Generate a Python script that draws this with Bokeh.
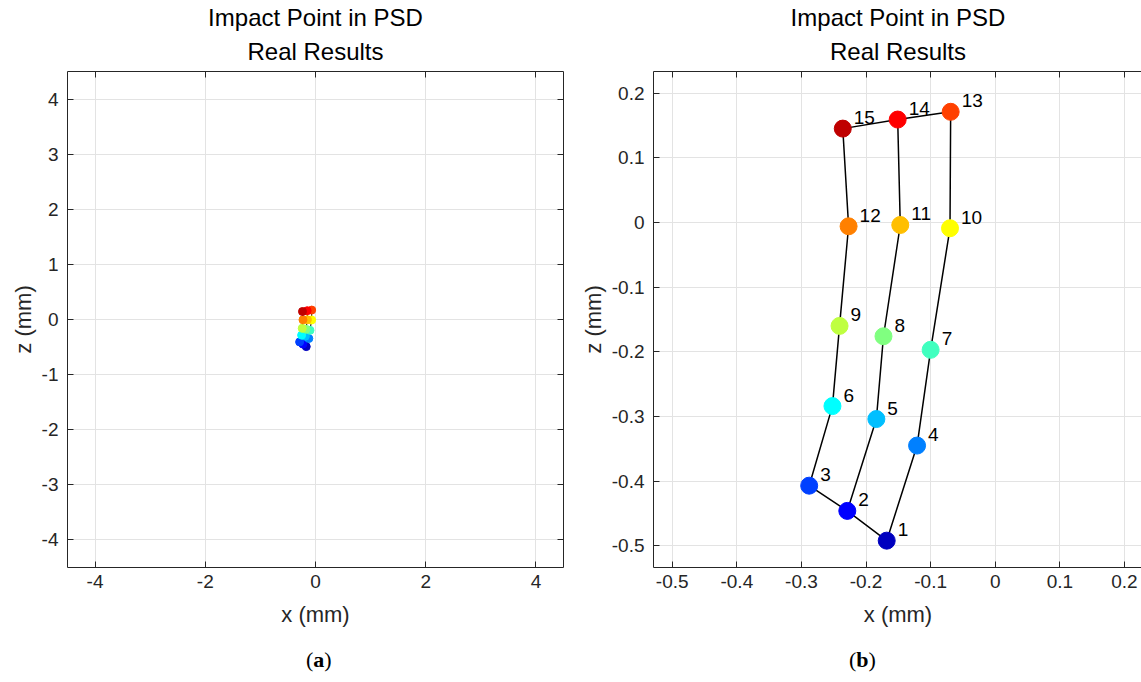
from bokeh.plotting import figure
from bokeh.models import (LinearAxis, Title, Div, FixedTicker, Range1d, ColumnDataSource,
                          CustomJSTickFormatter)
from bokeh.layouts import row, column
from bokeh.embed import file_html
from bokeh.resources import INLINE
from bokeh.core.properties import value

# ---- data ----
point_ids = list(range(1, 16))
x_mm = [-0.168, -0.229, -0.288, -0.121, -0.184, -0.252, -0.100, -0.173, -0.241,
        -0.070, -0.147, -0.227, -0.069, -0.151, -0.236]
z_mm = [-0.492, -0.446, -0.407, -0.345, -0.304, -0.284, -0.197, -0.176, -0.160,
        -0.009, -0.004, -0.006, 0.171, 0.159, 0.145]
# jet colormap (16 levels), first 15 used
point_colors = ["#0000BF", "#0000FF", "#0040FF", "#0080FF", "#00BFFF", "#00FFFF",
                "#40FFBF", "#80FF80", "#BFFF40", "#FFFF00", "#FFBF00", "#FF8000",
                "#FF4000", "#FF0000", "#BF0000"]
# connection paths, by point number
paths = [[1, 2, 3, 6, 9, 12, 15, 14, 13, 10, 7, 4, 1],
         [2, 5, 8, 11, 14]]

ticks_a_x = [-4, -2, 0, 2, 4]
ticks_a_y = [-4, -3, -2, -1, 0, 1, 2, 3, 4]
ticks_b = [-0.5, -0.4, -0.3, -0.2, -0.1, 0, 0.1, 0.2]

title_1 = "Impact Point in PSD"
title_2 = "Real Results"
x_label = "x (mm)"
z_label = "z (mm)"

FONT = "Liberation Sans"
DARK = "#262626"
GRID = "#E3E3E3"

src = ColumnDataSource(dict(x=x_mm, z=z_mm, c=point_colors,
                            lab=[str(i) for i in point_ids]))
line_xs = [[x_mm[i - 1] for i in pth] for pth in paths]
line_ys = [[z_mm[i - 1] for i in pth] for pth in paths]

plain_fmt = CustomJSTickFormatter(code="return String(tick)")
blank_fmt = CustomJSTickFormatter(code="return ''")


def hidden_axis(ticks):
    ax = LinearAxis(ticker=FixedTicker(ticks=ticks), formatter=blank_fmt)
    ax.major_label_text_color = None
    ax.major_label_text_font_size = "1px"
    ax.major_label_standoff = 0
    return ax


def style(p, tx, ty, right_axis):
    p.outline_line_color = None
    bottom = p.below[0]
    left = p.left[0]
    bottom.ticker = FixedTicker(ticks=tx)
    left.ticker = FixedTicker(ticks=ty)
    bottom.formatter = plain_fmt
    left.formatter = plain_fmt
    p.xgrid.ticker = FixedTicker(ticks=tx)
    p.ygrid.ticker = FixedTicker(ticks=ty)
    p.grid.grid_line_color = GRID
    p.grid.grid_line_width = 1
    bottom.axis_label = x_label
    left.axis_label = z_label
    axes = [bottom, left, hidden_axis(tx)]
    p.add_layout(axes[-1], "above")
    if right_axis:
        axes.append(hidden_axis(ty))
        p.add_layout(axes[-1], "right")
    for ax in axes:
        ax.axis_line_color = DARK
        ax.axis_line_width = 1
        ax.major_tick_line_color = DARK
        ax.major_tick_in = 6
        ax.major_tick_out = 0
        ax.minor_tick_line_color = None
    for ax in (bottom, left):
        ax.major_label_text_font = FONT
        ax.major_label_text_font_size = "19px"
        ax.major_label_text_color = DARK
        ax.axis_label_text_font = FONT
        ax.axis_label_text_font_size = "22px"
        ax.axis_label_text_font_style = "normal"
        ax.axis_label_text_color = DARK
    bottom.major_label_standoff = 7
    bottom.axis_label_standoff = 11
    left.major_label_standoff = 9
    left.axis_label_standoff = 3
    p.add_layout(Title(text=title_2, align="center",
                       text_font=FONT, text_font_size="24px",
                       text_font_style="normal", text_color="black", standoff=14), "above")
    p.add_layout(Title(text=title_1, align="center",
                       text_font=FONT, text_font_size="24px",
                       text_font_style="normal", text_color="black", standoff=-5), "above")


# ---- panel (a) ----
pa = figure(frame_width=496, frame_height=496, output_backend="svg", toolbar_location=None,
            x_range=Range1d(-4.5, 4.5), y_range=Range1d(-4.5, 4.5),
            min_border_left=67, min_border_right=14, min_border_top=71,
            min_border_bottom=75)
style(pa, ticks_a_x, ticks_a_y, True)
pa.multi_line(line_xs, line_ys, line_color="black", line_width=1)
pa.scatter("x", "z", source=src, size=8, fill_color="c", line_color="c")

# ---- panel (b) ----
x0 = -0.529
pb = figure(frame_width=489, frame_height=496, output_backend="svg", toolbar_location=None,
            x_range=Range1d(x0, x0 + 489 / 646.0), y_range=Range1d(-0.5335, 0.2333),
            min_border_left=74, min_border_right=0, min_border_top=71,
            min_border_bottom=75)
style(pb, ticks_b, ticks_b, False)
pb.multi_line(line_xs, line_ys, line_color="black", line_width=1.5)
pb.scatter("x", "z", source=src, size=17, fill_color="c", line_color="c")
pb.text("x", "z", text="lab", source=src, x_offset=11, y_offset=-11,
        text_font=value(FONT), text_font_size="19px", text_color="black",
        text_align="left", text_baseline="alphabetic")

cap_style = "font-family:'Liberation Serif',serif;font-size:22px;color:#000;line-height:26px;"
div_a = Div(text=f'<div style="{cap_style}padding-left:301px">(<b>a</b>)</div>',
            width=577, height=24)
div_b = Div(text=f'<div style="{cap_style}padding-left:257px">(<b>b</b>)</div>',
            width=560, height=24)

layout = column(row(pa, pb), row(div_a, div_b))
open("out.html", "w").write(file_html(layout, INLINE))
